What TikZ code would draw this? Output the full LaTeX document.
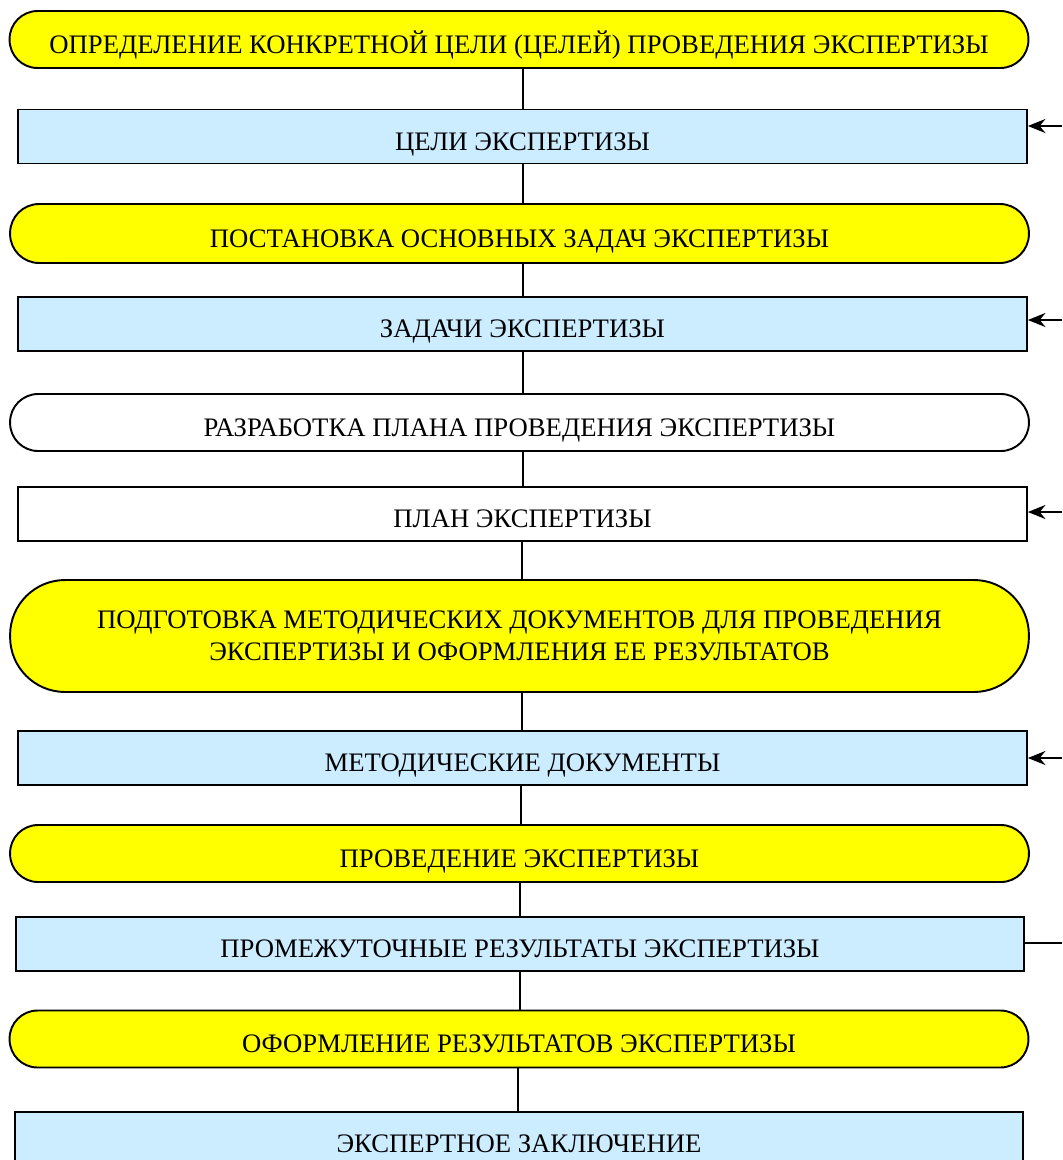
\documentclass[tikz,border=0pt]{standalone}
\usepackage{fontspec}
\setmainfont{Liberation Serif}
\usetikzlibrary{arrows.meta}
\definecolor{stagefill}{RGB}{255,255,0}
\definecolor{resfill}{RGB}{204,236,255}
\tikzset{
	stagebase/.style={draw,line width=1.1pt,rounded corners=0.56cm,minimum width=20.38cm,minimum height=1.14cm,inner sep=0pt,align=center},
	oneline/.style={text height=15.6pt,text depth=0pt},
	stage/.style={stagebase,oneline},
	result/.style={draw,line width=1.1pt,minimum width=20.18cm,minimum height=1.08cm,inner sep=0pt,align=center,oneline},
	link/.style={line width=1.1pt},
	feed/.style={line width=1.2pt,-{Stealth[length=10pt,width=8pt]}}
}
\begin{document}
\begin{tikzpicture}[x=0.02cm,y=-0.02cm,font=\fontsize{15.2}{18}\selectfont]
	\useasboundingbox (0,0) rectangle (1062,1160);
	\node[stage,fill=stagefill] (goaldef) at (519,39.5) {ОПРЕДЕЛЕНИЕ КОНКРЕТНОЙ ЦЕЛИ (ЦЕЛЕЙ) ПРОВЕДЕНИЯ ЭКСПЕРТИЗЫ};
	\node[result,fill=resfill] (goals) at (522.5,136.5) {ЦЕЛИ ЭКСПЕРТИЗЫ};
	\node[stage,fill=stagefill,minimum height=1.18cm,rounded corners=0.58cm] (taskdef) at (519.5,233.5) {ПОСТАНОВКА ОСНОВНЫХ ЗАДАЧ ЭКСПЕРТИЗЫ};
	\node[result,fill=resfill] (tasks) at (522.5,324) {ЗАДАЧИ ЭКСПЕРТИЗЫ};
	\node[stage,fill=white] (plandef) at (519.5,422.5) {РАЗРАБОТКА ПЛАНА ПРОВЕДЕНИЯ ЭКСПЕРТИЗЫ};
	\node[result,fill=white] (plan) at (522.5,514) {ПЛАН ЭКСПЕРТИЗЫ};
	\node[stagebase,fill=stagefill,minimum height=2.24cm,rounded corners=1.1cm] (docdef) at (519.5,636) {ПОДГОТОВКА МЕТОДИЧЕСКИХ ДОКУМЕНТОВ ДЛЯ ПРОВЕДЕНИЯ\\ЭКСПЕРТИЗЫ И ОФОРМЛЕНИЯ ЕЕ РЕЗУЛЬТАТОВ};
	\node[result,fill=resfill] (docs) at (522.5,758) {МЕТОДИЧЕСКИЕ ДОКУМЕНТЫ};
	\node[stage,fill=stagefill] (run) at (519.5,853.5) {ПРОВЕДЕНИЕ ЭКСПЕРТИЗЫ};
	\node[result,fill=resfill] (interim) at (520,944) {ПРОМЕЖУТОЧНЫЕ РЕЗУЛЬТАТЫ ЭКСПЕРТИЗЫ};
	\node[stage,fill=stagefill] (report) at (519,1039) {ОФОРМЛЕНИЕ РЕЗУЛЬТАТОВ ЭКСПЕРТИЗЫ};
	\node[result,fill=resfill] (verdict) at (519,1139) {ЭКСПЕРТНОЕ ЗАКЛЮЧЕНИЕ};
	% vertical links
	\foreach \a/\b/\x in {goaldef/goals/523,goals/taskdef/523,taskdef/tasks/523,tasks/plandef/523,plandef/plan/523,plan/docdef/522,docdef/docs/522,docs/run/521,run/interim/520,interim/report/520,report/verdict/518}
		\draw[link] (\x,0 |- \a.south) -- (\x,0 |- \b.north);
	% side inputs
	\coordinate (ingoals) at (1062,126);
	\coordinate (intasks) at (1062,320);
	\coordinate (inplan) at (1062,512);
	\coordinate (indocs) at (1062,758);
	\coordinate (outinterim) at (1062,943);
	\draw[feed] (ingoals) -- (goals.east |- ingoals);
	\draw[feed] (intasks) -- (tasks.east |- intasks);
	\draw[feed] (inplan) -- (plan.east |- inplan);
	\draw[feed] (indocs) -- (docs.east |- indocs);
	\draw[link] (interim.east |- outinterim) -- (outinterim);
\end{tikzpicture}
\end{document}
